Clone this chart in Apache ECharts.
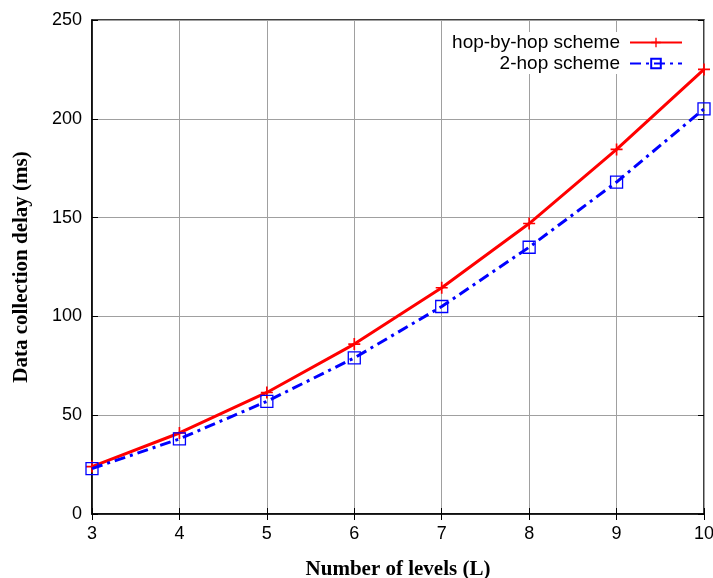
<!DOCTYPE html>
<html>
<head>
<meta charset="utf-8">
<script src="https://cdn.jsdelivr.net/npm/echarts@6/dist/echarts.min.js"></script>
<style>html,body{margin:0;padding:0;background:#fff;}#c{width:713px;height:578px;}</style>
</head>
<body>
<div id="c"></div>
<script>
var levels = [3, 4, 5, 6, 7, 8, 9, 10];
var hopByHop = [24, 41, 61.5, 86, 114.5, 147, 184.5, 225];
var twoHop = [23, 38, 57, 79, 105, 135, 168, 205];
var yTicks = [0, 50, 100, 150, 200, 250];

var chart = echarts.init(document.getElementById('c'));
var sans = 'Liberation Sans, Arial, sans-serif';
var serif = 'Liberation Serif, Times New Roman, serif';
function pairs(v){ return levels.map(function(x,i){ return [x, v[i]]; }); }
var plus = 'path://M4.3,0H5.7V4.3H10V5.7H5.7V10H4.3V5.7H0V4.3H4.3Z';

var legendText = {fontFamily: sans, fontSize: 19, color: '#000', padding: [0, 5, 0, 0]};
var option = {
  animation: false,
  backgroundColor: '#fff',
  grid: {left: 92, right: 9, top: 20, bottom: 64, outerBoundsMode: 'none', containLabel: false,
         show: true, borderColor: '#000', borderWidth: 1.5, backgroundColor: 'transparent'},
  legend: [
    {data: ['hop-by-hop scheme'], right: 26, top: 32, align: 'right', orient: 'vertical', itemWidth: 52, itemHeight: 12,
     backgroundColor: '#fff', padding: [1, 4], textStyle: legendText},
    {data: ['2-hop scheme'], right: 26, top: 53, align: 'right', orient: 'vertical', itemWidth: 52, itemHeight: 12,
     backgroundColor: '#fff', padding: [1, 4], textStyle: legendText}
  ],
  xAxis: [
    {type: 'value', min: 3, max: 10, interval: 1, name: 'Number of levels (L)', nameLocation: 'middle', nameGap: 45,
     nameTextStyle: {fontFamily: serif, fontWeight: 'bold', fontSize: 21, color: '#000'},
     axisLine: {show: true, lineStyle: {color: '#000', width: 1.5}},
     axisTick: {show: true, inside: true, length: 6, lineStyle: {color: '#000'}},
     axisLabel: {fontFamily: sans, fontSize: 18, color: '#000', margin: 11},
     splitLine: {show: true, lineStyle: {color: '#a0a0a0', width: 1}}},
    {type: 'value', position: 'top', min: 3, max: 10, interval: 1,
     axisLine: {show: false}, axisTick: {show: true, inside: true, length: 6, lineStyle: {color: '#000'}},
     axisLabel: {show: false}, splitLine: {show: false}}
  ],
  yAxis: [
    {type: 'value', min: 0, max: 250, interval: 50, name: 'Data collection delay (ms)', nameLocation: 'middle', nameGap: 60,
     nameTextStyle: {fontFamily: serif, fontWeight: 'bold', fontSize: 21, color: '#000'},
     axisLine: {show: true, lineStyle: {color: '#000', width: 1.5}},
     axisTick: {show: true, inside: true, length: 6, lineStyle: {color: '#000'}},
     axisLabel: {fontFamily: sans, fontSize: 18, color: '#000', margin: 10,
       formatter: function(v){ return yTicks.indexOf(v) >= 0 ? String(v) : ''; }},
     splitLine: {show: true, lineStyle: {color: '#a0a0a0', width: 1}}},
    {type: 'value', position: 'right', min: 0, max: 250, interval: 50,
     axisLine: {show: false}, axisTick: {show: true, inside: true, length: 6, lineStyle: {color: '#000'}},
     axisLabel: {show: false}, splitLine: {show: false}}
  ],
  series: [
    {name: 'hop-by-hop scheme', type: 'line', data: pairs(hopByHop), symbol: plus, symbolSize: 12,
     itemStyle: {color: '#ff0000'}, lineStyle: {color: '#ff0000', width: 3}, z: 3},
    {name: '2-hop scheme', type: 'line', data: pairs(twoHop), symbol: 'rect', symbolSize: 12,
     itemStyle: {color: 'transparent', borderColor: '#0000ff', borderWidth: 1.3},
     lineStyle: {color: '#0000ff', width: 3, type: [11, 5, 3, 5]}, z: 4}
  ]
};
chart.setOption(option);
</script>
</body>
</html>
